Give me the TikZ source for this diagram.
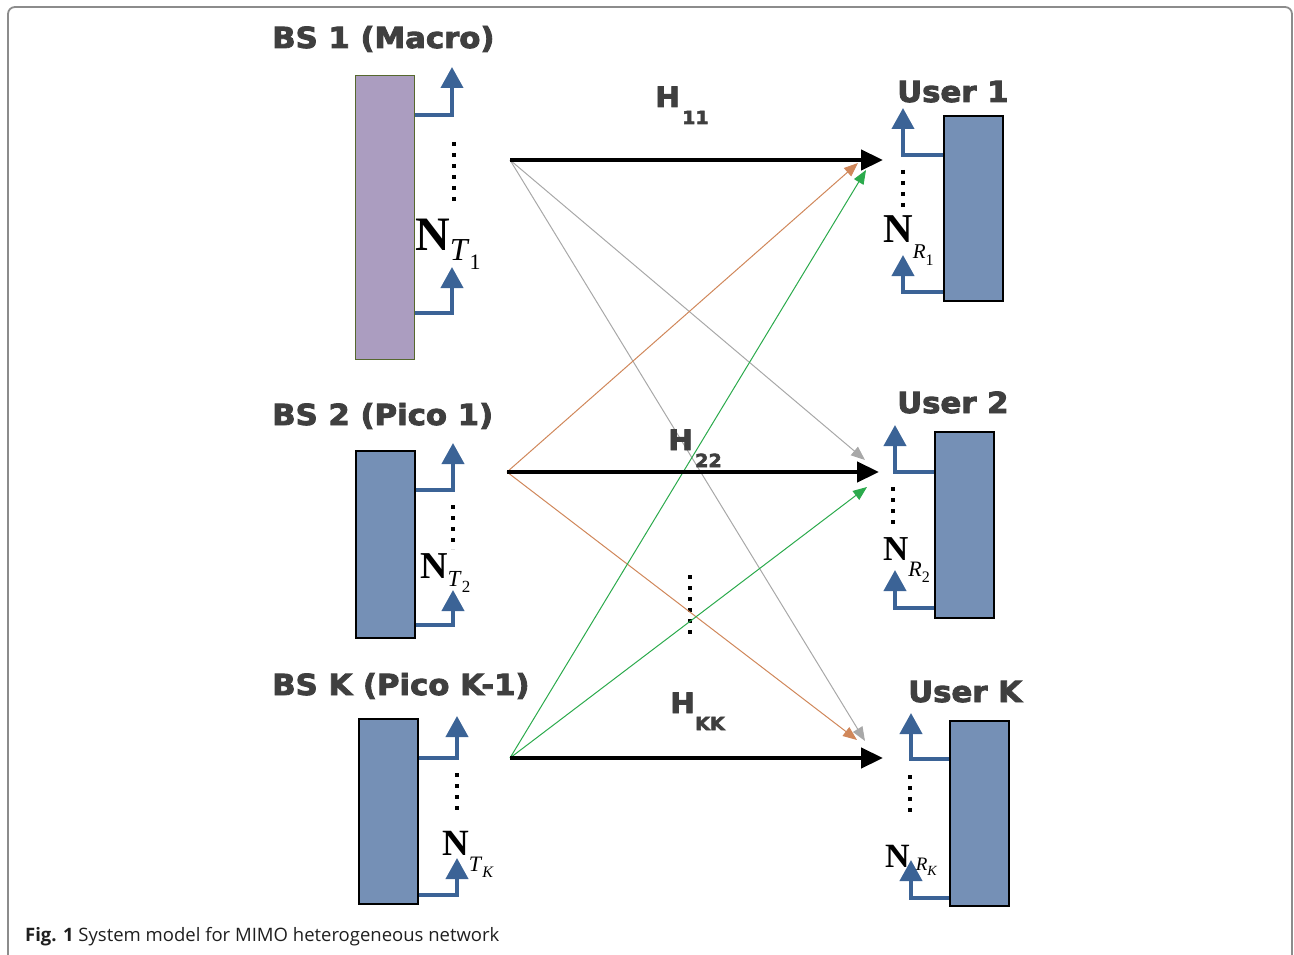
\documentclass[tikz,border=0pt]{standalone}
\usepackage{fontspec}
\setmainfont{Liberation Serif}
\newfontfamily\tfont{DejaVu Sans Bold}[FakeBold=3, FakeStretch=1.06]
\newfontfamily\capfont{Open Sans}
\usetikzlibrary{arrows.meta}
\definecolor{antc}{HTML}{3B6396}
\definecolor{boxblue}{HTML}{7590B6}
\definecolor{boxpurple}{HTML}{AB9DC0}
\definecolor{olive}{HTML}{56682E}
\definecolor{ttl}{HTML}{3F3F3F}
\definecolor{gline}{HTML}{A8A8A8}
\definecolor{oline}{HTML}{D0875A}
\definecolor{grline}{HTML}{2BAA4C}
\definecolor{framec}{HTML}{8C8C8C}
% #1 N size, #2 sub size, #3 subsub size, #4 drop of sub, #5 letter, #6 index
\newcommand{\NLab}[6]{\fontsize{#1}{#1}\selectfont\textbf{N}\raisebox{-#4pt}{\fontsize{#2}{#2}\selectfont\textit{#5}\raisebox{-0.3em}{\fontsize{#3}{#3}\selectfont #6}}}
\tikzset{
  bsbox/.style={draw=black, line width=1.6pt, fill=boxblue, anchor=north west, inner sep=0pt},
  antenna/.style={draw=antc, line width=4pt, -{Triangle[width=22pt,length=21pt]}},
  dotcol/.style={line width=4pt, dash pattern=on 4pt off 7pt},
  mainarrow/.style={line width=4.5pt, -{Triangle[width=20pt,length=22pt]}},
  thin/.style={line width=1pt, -{Triangle[width=11pt,length=14pt]}},
  title/.style={anchor=base west, inner sep=0pt, text=ttl, font=\tfont\fontsize{29}{29}\selectfont},
  hlab/.style={anchor=base west, inner sep=0pt, text=ttl, font=\tfont\fontsize{28}{28}\selectfont},
  hsub/.style={anchor=base west, inner sep=0pt, text=ttl, font=\tfont\fontsize{18}{18}\selectfont},
  nlab/.style={anchor=base west, inner sep=0pt}
}
\begin{document}
\begin{tikzpicture}[x=1pt,y=-1pt]
\useasboundingbox (0,0) rectangle (1294,955);
% frame
\draw[framec, line width=1.8pt, rounded corners=7pt] (8,956) -- (8,7) -- (1292,7) -- (1292,956);

% boxes
\node[bsbox, draw=olive, line width=1.3pt, fill=boxpurple, minimum width=59pt, minimum height=284pt] (bs1) at (355,75) {};
\node[bsbox, minimum width=59pt, minimum height=187pt] (bs2) at (355,450) {};
\node[bsbox, minimum width=59pt, minimum height=185pt] (bsk) at (358,718) {};
\node[bsbox, minimum width=59pt, minimum height=185pt] (u1) at (943,115) {};
\node[bsbox, minimum width=59pt, minimum height=186pt] (u2) at (934,431) {};
\node[bsbox, minimum width=59pt, minimum height=185pt] (uk) at (949,720) {};

% titles
\node[title] (t1) at (272,48) {BS 1 (Macro)};
\node[title] (t2) at (272,425) {BS 2 (Pico 1)};
\node[title] (tk) at (272,695) {BS K (Pico K-1)};
\node[title] (tu1) at (897,102) {User 1};
\node[title] (tu2) at (897,413) {User 2};
\node[title] (tuk) at (908,702) {User K};

% antenna tips
\coordinate (bs1a) at (452,67);  \coordinate (bs1b) at (452,267);
\coordinate (bs2a) at (453,443); \coordinate (bs2b) at (453,590);
\coordinate (bska) at (457,716); \coordinate (bskb) at (457,858);
\coordinate (u1a) at (903,108);  \coordinate (u1b) at (903,255);
\coordinate (u2a) at (895,425);  \coordinate (u2b) at (895,570);
\coordinate (uka) at (911,713);  \coordinate (ukb) at (911,860);

\draw[antenna] (bs1.north east) ++(0,40) -| (bs1a);
\draw[antenna] (bs1.north east) ++(0,238) -| (bs1b);
\draw[antenna] (bs2.north east) ++(0,40) -| (bs2a);
\draw[antenna] (bs2.north east) ++(0,175) -| (bs2b);
\draw[antenna] (bsk.north east) ++(0,40) -| (bska);
\draw[antenna] (bsk.north east) ++(0,177) -| (bskb);
\draw[antenna] (u1.north west) ++(0,40) -| (u1a);
\draw[antenna] (u1.north west) ++(0,177) -| (u1b);
\draw[antenna] (u2.north west) ++(0,41) -| (u2a);
\draw[antenna] (u2.north west) ++(0,177) -| (u2b);
\draw[antenna] (uk.north west) ++(0,39) -| (uka);
\draw[antenna] (uk.north west) ++(0,178) -| (ukb);

% dots
\draw[dotcol] (454,142) -- (454,205);
\draw[dotcol] (453,505) -- (453,549);
\draw[dotcol] (457,773) -- (457,813);
\draw[dotcol] (903,170) -- (903,210);
\draw[dotcol] (893,487) -- (893,526);
\draw[dotcol] (910,775) -- (910,815);
\draw[dotcol] (690,575) -- (690,638);

% N labels
\node[nlab] (n1) at (415,250) {\NLab{48}{32}{22}{10}{T}{1}};
\node[nlab] (n2) at (420,578) {\NLab{38}{23}{17}{8}{T}{2}};
\node[nlab] (nk) at (442,855) {\NLab{37}{22}{16}{16}{T}{\textit{K}}};
\node[nlab] (nr1) at (883,242) {\NLab{41}{21}{16}{17}{R}{1}};
\node[nlab] (nr2) at (883,560) {\NLab{35}{22}{16}{16}{R}{2}};
\node[nlab] (nrk) at (885,867) {\fontsize{34}{34}\selectfont\textbf{N}\kern6pt\raisebox{-3pt}{\fontsize{19}{19}\selectfont\textit{R}\raisebox{-0.3em}{\fontsize{14}{14}\selectfont\textit{K}}}};

% link endpoints
\coordinate (o1) at (510,160);  \coordinate (i1) at (883,160);
\coordinate (o2) at (507,472);  \coordinate (i2) at (879,472);
\coordinate (ok) at (510,758);  \coordinate (ik) at (883,758);
\coordinate (g12) at (865,460); \coordinate (g1k) at (865,741);
\coordinate (o21) at (858,163); \coordinate (o2k) at (857,740);
\coordinate (gk1) at (866,170); \coordinate (gk2) at (867,487);

% thin cross links
\draw[thin, gline] (o1) -- (g12);
\draw[thin, gline] (o1) -- (g1k);
\draw[thin, oline] (o2) -- (o21);
\draw[thin, oline] (o2) -- (o2k);
\draw[thin, grline] (ok) -- (gk1);
\draw[thin, grline] (ok) -- (gk2);

% main links
\draw[mainarrow] (o1) -- (i1);
\draw[mainarrow] (o2) -- (i2);
\draw[mainarrow] (ok) -- (ik);

% H labels
\node[hlab] (h11) at (655,107) {H};
\node[hsub] (h11s) at (682,124) {11};
\node[hlab] (h22) at (668,450) {H};
\node[hsub] (h22s) at (695,467) {22};
\node[hlab] (hkk) at (670,713) {H};
\node[hsub] (hkks) at (695,730) {KK};

% caption
\node[anchor=base west, inner sep=0pt, text=black!88, font=\capfont\fontsize{18.5}{18.5}\selectfont] (cap) at (25,941) {\textbf{Fig. 1} System model for MIMO heterogeneous network};
\end{tikzpicture}
\end{document}
